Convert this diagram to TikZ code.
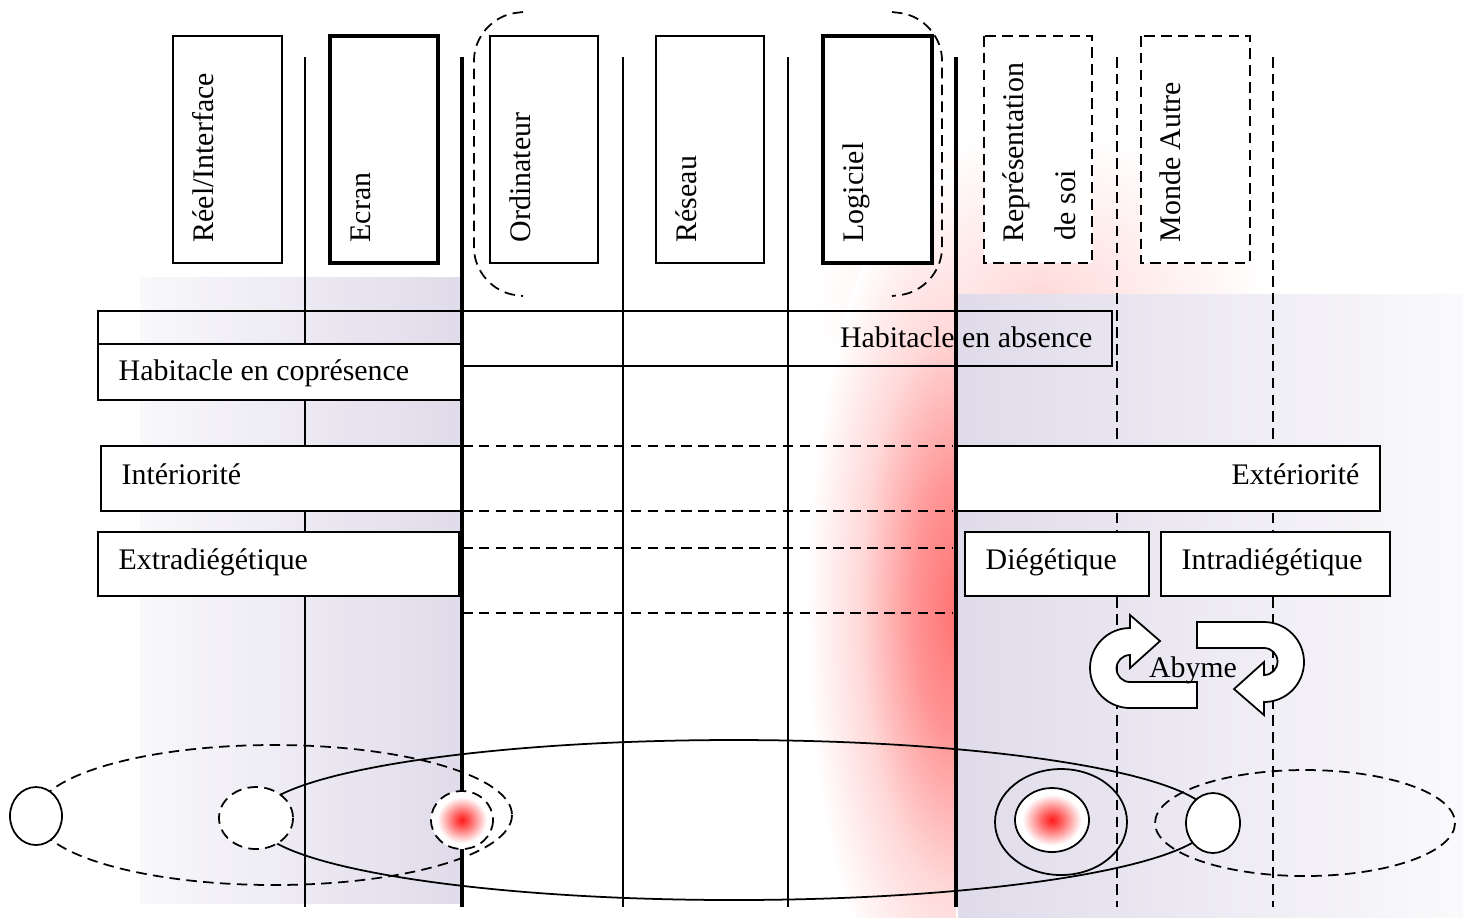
\documentclass[tikz,border=0pt]{standalone}
\usepackage{fontspec}
\setmainfont{Liberation Serif}
\definecolor{lav}{RGB}{224,219,234}
\pgfdeclareradialshading{bandglow}{\pgfpointorigin}{color(0bp)=(red!55!white); color(7bp)=(red!42!white); color(16bp)=(red!15!white); color(25bp)=(white); color(50bp)=(white)}
\pgfdeclareradialshading{topglow}{\pgfpointorigin}{color(0bp)=(red!15!white); color(12bp)=(red!7!white); color(25bp)=(white); color(50bp)=(white)}
\pgfdeclareradialshading{reddot}{\pgfpointorigin}{color(0bp)=(red!90!white); color(6bp)=(red!65!white); color(20bp)=(white); color(50bp)=(white)}
\tikzset{
  thinln/.style={line width=0.5pt},
  thickln/.style={line width=1.1pt},
  dsh/.style={line width=0.5pt,dash pattern=on 3pt off 1.8pt},
  vlab/.style={rotate=90,anchor=base west,inner sep=0pt},
  hlab/.style={anchor=base west,inner sep=0pt},
  hlabr/.style={anchor=base east,inner sep=0pt},
}
\begin{document}
\begin{tikzpicture}[x=0.01cm,y=-0.01cm,font=\fontsize{8.5}{10}\selectfont]
\useasboundingbox (0,0) rectangle (1470,917);
% red glows
\shade[shading=topglow] (1040,300) ellipse (230 and 170);
\begin{scope}
\clip (700,0) rectangle (956,917);
\shade[shading=bandglow] (956,610) ellipse (150 and 440);
\end{scope}
% backgrounds
\shade[left color=lav!20,right color=lav] (140,277) rectangle (462,903);
\shade[left color=lav,right color=lav!15] (958,294) rectangle (1463,917);
% columns
\foreach \x in {305,623,788} \draw[thinln] (\x,57)--(\x,907);
\foreach \x in {1117,1273} \draw[dsh] (\x,57)--(\x,907);
% top boxes
\draw[thinln,fill=white] (173,36) rectangle (282,263);
\node[vlab] (reel) at (213,243) {Réel/Interface};
\draw[thickln,fill=white] (330,36) rectangle (438,263);
\node[vlab] (ecran) at (370,243) {Ecran};
\draw[thinln,fill=white] (490,36) rectangle (598,263);
\node[vlab] (ordi) at (530,243) {Ordinateur};
\draw[thinln,fill=white] (656,36) rectangle (764,263);
\node[vlab] (reseau) at (696,243) {Réseau};
\draw[thickln,fill=white] (823,36) rectangle (932,263);
\node[vlab] (logiciel) at (863,243) {Logiciel};
\draw[dsh,fill=white] (984,36) rectangle (1092,263);
\node[vlab] (repsoi) at (1023,243) {Représentation};
\node[vlab] (desoi) at (1075,241) {de soi};
\draw[dsh,fill=white] (1141,36) rectangle (1250,263);
\node[vlab] (monde) at (1180,243) {Monde Autre};
\draw[dsh,rounded corners=12pt] (523,12)--(474,18)--(474,290)--(523,296);
\draw[dsh,rounded corners=12pt] (892,12)--(942,18)--(942,290)--(892,296);
% bands
\draw[thinln] (98,311) rectangle (1112,366);
\node[hlabr] (absence) at (1093,347) {Habitacle en absence};
\draw[thinln,fill=white] (98,344) rectangle (462,400);
\node[hlab] (copres) at (118,380) {Habitacle en coprésence};
\foreach \y in {446,511,548,613} \draw[dsh] (462,\y)--(952,\y);
\draw[thinln,fill=white] (101,446) rectangle (462,511);
\node[hlab] (interieur) at (121,484) {Intériorité};
\draw[thinln,fill=white] (957,446) rectangle (1380,511);
\node[hlabr] (exterieur) at (1360,484) {Extériorité};
\draw[thinln,fill=white] (98,532) rectangle (459,596);
\node[hlab] (extra) at (118,569) {Extradiégétique};
\draw[thinln,fill=white] (965,532) rectangle (1149,596);
\node[hlab] (diege) at (985,569) {Diégétique};
\draw[thinln,fill=white] (1161,532) rectangle (1390,596);
\node[hlab] (intra) at (1181,569) {Intradiégétique};
\foreach \x in {462,956} \draw[thickln] (\x,57)--(\x,907);
% abyme
\foreach \r in {0,180}
  \draw[thinln,fill=white,rotate around={\r:(1197,665)}] (1197,708)--(1130,708) arc (90:270:40)
    --(1130,615)--(1160,641)--(1130,668)--(1130,655) arc (270:90:13.5)--(1197,682)--cycle;
\node[anchor=base,inner sep=0pt] (abyme) at (1193,677) {Abyme};
% ellipses
\draw[dsh] (274,815) ellipse (238 and 70);
\draw[thinln] (734,820) ellipse (478 and 80);
\draw[thinln,fill=white] (36,816) ellipse (26 and 29);
\draw[dsh,fill=white] (256,818) ellipse (37 and 31);
\shade[shading=reddot] (462,820) ellipse (31 and 29);
\draw[dsh] (462,820) ellipse (31 and 29);
\draw[thinln] (1061,822) ellipse (66 and 53);
\shade[shading=reddot] (1052,820) ellipse (37 and 32);
\draw[thinln] (1052,820) ellipse (37 and 32);
\draw[dsh] (1305,823) ellipse (150 and 53);
\draw[thinln,fill=white] (1213,823) ellipse (27 and 30);
\end{tikzpicture}
\end{document}
